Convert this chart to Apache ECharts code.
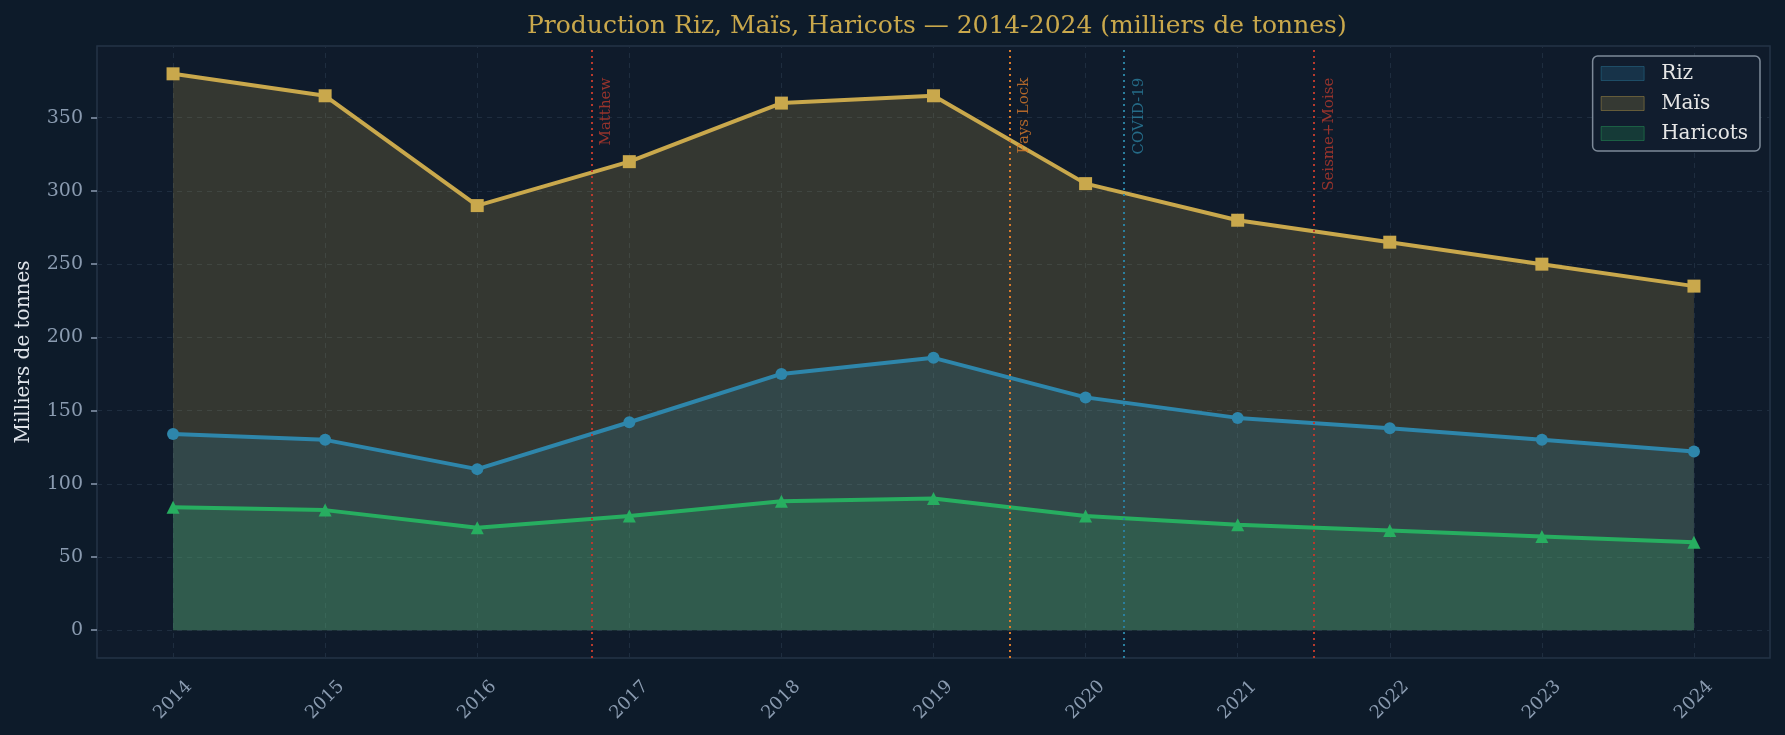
<!DOCTYPE html>
<html>
<head>
<meta charset="utf-8">
<script src="https://cdn.jsdelivr.net/npm/echarts@6/dist/echarts.min.js"></script>
<style>
  html, body { margin: 0; padding: 0; background: #0d1b2a; }
  #main { width: 1785px; height: 735px; }
</style>
</head>
<body>
<div id="main"></div>
<script>
// données (milliers de tonnes)
var years = [2014, 2015, 2016, 2017, 2018, 2019, 2020, 2021, 2022, 2023, 2024];
var riz = [134, 130, 110, 142, 175, 186, 159, 145, 138, 130, 122];
var mais = [380, 365, 290, 320, 360, 365, 305, 280, 265, 250, 235];
var haricots = [84, 82, 70, 78, 88, 90, 78, 72, 68, 64, 60];

// événements
var eventYears = [2016.75, 2019.5, 2020.25, 2021.5];
var eventNames = ['Matthew', 'Pays Lock', 'COVID-19', 'Seisme+Moise'];
var eventColors = ['#b8392d', '#d97a2b', '#2a7f9f', '#b8392d'];

var FONT = 'DejaVu Serif';
var C_RIZ = '#2e86ab', C_MAIS = '#c9a84c', C_HAR = '#27ae60';

function pairs(vals) {
    return vals.map(function (v, i) { return [years[i], v]; });
}
function rgba(hex, a) {
    var n = parseInt(hex.slice(1), 16);
    return 'rgba(' + (n >> 16) + ',' + ((n >> 8) & 255) + ',' + (n & 255) + ',' + a + ')';
}
function areaSeries(name, vals, color, symbol, size) {
    return {
        name: name, type: 'line', xAxisIndex: 0, z: 3,
        data: pairs(vals),
        symbol: symbol, symbolSize: size,
        itemStyle: { color: color },
        lineStyle: { color: color, width: 4 },
        areaStyle: { color: color, opacity: 0.2 }
    };
}

var myChart = echarts.init(document.getElementById('main'));

var series = [
    {   // grille verticale
        type: 'line', xAxisIndex: 0, data: [], z: 1, silent: true,
        markLine: {
            silent: true, symbol: ['none', 'none'], animation: false, z: 1,
            label: { show: false },
            lineStyle: { color: '#1e2d3f', type: [5, 5], width: 1 },
            data: years.map(function (y) { return { xAxis: y }; })
        }
    },
    areaSeries('Maïs', mais, C_MAIS, 'rect', 13),
    areaSeries('Riz', riz, C_RIZ, 'circle', 12),
    areaSeries('Haricots', haricots, C_HAR, 'triangle', 13)
];

eventYears.forEach(function (x, i) {
    series.push({
        type: 'scatter', xAxisIndex: 0, z: 5, silent: true,
        data: [[x, 378]],
        symbolSize: 0,
        label: {
            show: true, position: 'inside', formatter: eventNames[i],
            rotate: 90, align: 'right', verticalAlign: 'middle',
            offset: [-1, 15],
            color: eventColors[i], fontFamily: FONT, fontSize: 15
        },
        markLine: {
            silent: true, symbol: ['none', 'none'], animation: false, z: 4,
            label: { show: false },
            lineStyle: { color: eventColors[i], type: [2, 4], width: 2 },
            data: [{ xAxis: x }]
        }
    });
});

var option = {
    animation: false,
    backgroundColor: '#0d1b2a',
    title: {
        text: 'Production Riz, Maïs, Haricots — 2014-2024 (milliers de tonnes)',
        left: 522, top: 9,
        textStyle: { color: '#c9a84c', fontFamily: FONT, fontSize: 25, fontWeight: 'normal' }
    },
    legend: {
        orient: 'vertical', right: 25, top: 56,
        icon: 'rect', itemWidth: 43, itemHeight: 14, itemGap: 9,
        backgroundColor: '#111d2e', borderColor: '#7d8a99', borderWidth: 1.5, borderRadius: 5,
        padding: [7, 12, 7, 8],
        textStyle: { color: '#e6e6e6', fontFamily: FONT, fontSize: 20, lineHeight: 21, padding: [0, 0, 0, 12] },
        data: [
            { name: 'Riz', itemStyle: { color: rgba(C_RIZ, 0.22), borderColor: rgba(C_RIZ, 0.4), borderWidth: 1 } },
            { name: 'Maïs', itemStyle: { color: rgba(C_MAIS, 0.2), borderColor: rgba(C_MAIS, 0.4), borderWidth: 1 } },
            { name: 'Haricots', itemStyle: { color: rgba(C_HAR, 0.2), borderColor: rgba(C_HAR, 0.4), borderWidth: 1 } }
        ]
    },
    grid: {
        left: 97, right: 15, top: 46, bottom: 77,
        show: true, backgroundColor: '#0f1b2b', borderColor: '#243447', borderWidth: 1.5
    },
    xAxis: [
        {
            type: 'value', min: 2013.5, max: 2024.5, show: false, position: 'bottom'
        },
        {
            type: 'category', data: years, boundaryGap: true, position: 'bottom',
            axisLine: { show: false },
            axisTick: { alignWithLabel: true, length: 6, lineStyle: { color: '#8a9bb0', width: 1.5 } },
            axisLabel: {
                rotate: 45, margin: 42, align: 'center', verticalAlign: 'middle',
                color: '#8a9bb0', fontFamily: FONT, fontSize: 18
            },
            splitLine: { show: false }
        }
    ],
    yAxis: {
        type: 'value', min: -19, max: 399, splitNumber: 8,
        name: 'Milliers de tonnes', nameLocation: 'middle', nameGap: 63,
        nameTextStyle: { color: '#dfe4ea', fontFamily: FONT, fontSize: 20 },
        axisLine: { show: false },
        axisTick: { show: true, length: 6, lineStyle: { color: '#8a9bb0', width: 1.5 } },
        axisLabel: { color: '#8a9bb0', fontFamily: FONT, fontSize: 19, margin: 14, showMinLabel: false, showMaxLabel: false },
        splitLine: { show: true, showMinLine: false, showMaxLine: false, lineStyle: { color: '#1e2d3f', type: [5, 5], width: 1 } }
    },
    series: series
};

myChart.setOption(option);
</script>
</body>
</html>
